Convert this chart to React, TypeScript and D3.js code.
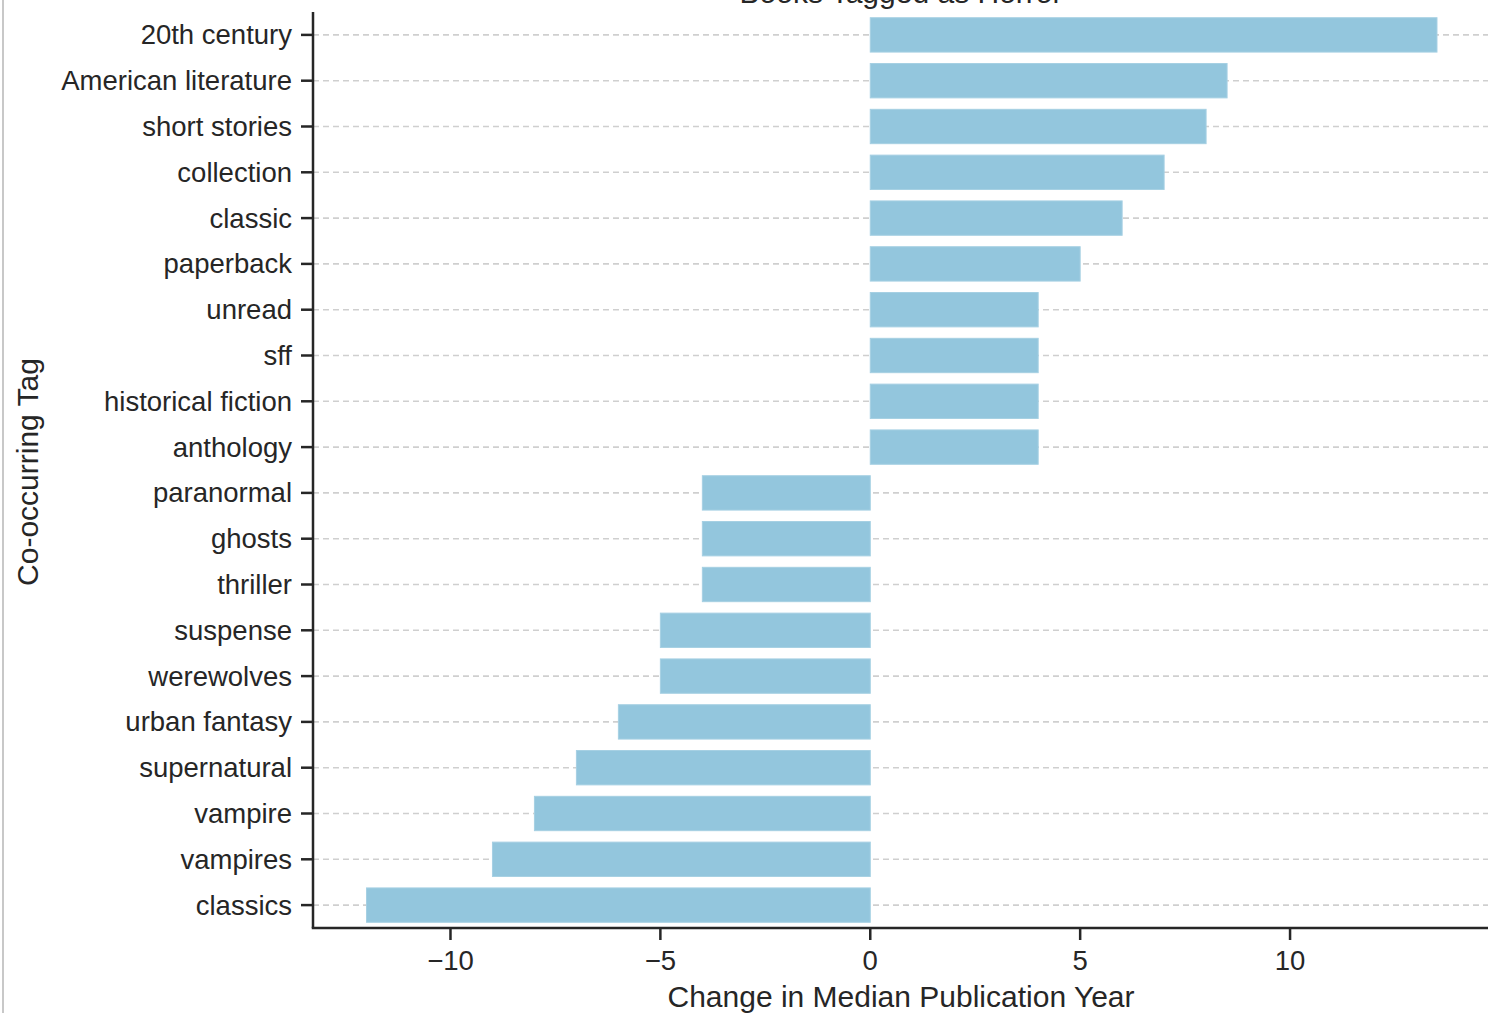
import React from "react";
import * as d3 from "d3";

const tags = [
  "20th century", "American literature", "short stories", "collection", "classic",
  "paperback", "unread", "sff", "historical fiction", "anthology",
  "paranormal", "ghosts", "thriller", "suspense", "werewolves",
  "urban fantasy", "supernatural", "vampire", "vampires", "classics",
];
const changes = [13.5, 8.5, 8, 7, 6, 5, 4, 4, 4, 4, -4, -4, -4, -5, -5, -6, -7, -8, -9, -12];
const xTicks = [-10, -5, 0, 5, 10];
const title = "Books Tagged as Horror";
const xLabel = "Change in Median Publication Year";
const yLabel = "Co-occurring Tag";

const W = 1488, H = 1015;
const FONT = "'Liberation Sans', Arial, sans-serif";

export default function App() {
  const left = 313, bottom = 928, top = 12;
  const x = d3.scaleLinear().domain([-13.275, 14.775]).range([left, 1490.5]);
  const y = d3.scaleBand<string>().domain(tags).range([top, bottom]).paddingInner(0.25).paddingOuter(0.125);
  const dark = "#262626";
  return (
    <svg width={W} height={H} style={{ position: "absolute", left: 0, top: 0, background: "#fff" }}>
      <rect x={0} y={0} width={W} height={H} fill="#fff" />
      <line x1={3} x2={3} y1={0} y2={1013} stroke="#c8c8c8" strokeWidth={2} />
      <text x={901} y={3} textAnchor="middle" fontFamily={FONT} fontSize={30} fill={dark}>{title}</text>
      {tags.map((t) => {
        const cy = (y(t) as number) + y.bandwidth() / 2;
        return (
          <line key={"g" + t} x1={left} x2={W} y1={cy} y2={cy} stroke="#cfcfcf" strokeWidth={1.6} strokeDasharray="6 4" />
        );
      })}
      {tags.map((t, i) => {
        const v = changes[i];
        const x0 = x(Math.min(0, v));
        const x1 = x(Math.max(0, v));
        return (
          <rect key={"b" + t} x={x0} y={y(t)} width={x1 - x0} height={y.bandwidth()} fill="#93c6dd" stroke="#a6d0e3" strokeWidth={1} />
        );
      })}
      <line x1={left} x2={left} y1={top} y2={bottom} stroke={dark} strokeWidth={2.5} />
      <line x1={left - 1.25} x2={W} y1={bottom} y2={bottom} stroke={dark} strokeWidth={2.5} />
      {tags.map((t) => {
        const cy = (y(t) as number) + y.bandwidth() / 2;
        return (
          <g key={"t" + t}>
            <line x1={left - 12} x2={left} y1={cy} y2={cy} stroke={dark} strokeWidth={2.5} />
            <text x={292} y={cy + 9.5} textAnchor="end" fontFamily={FONT} fontSize={27.5} fill={dark}>{t}</text>
          </g>
        );
      })}
      {xTicks.map((v) => (
        <g key={"x" + v}>
          <line x1={x(v)} x2={x(v)} y1={bottom} y2={bottom + 12} stroke={dark} strokeWidth={2.5} />
          <text x={x(v)} y={970} textAnchor="middle" fontFamily={FONT} fontSize={27.5} fill={dark}>
            {v < 0 ? "\u2212" + Math.abs(v) : String(v)}
          </text>
        </g>
      ))}
      <text x={901} y={1006.5} textAnchor="middle" fontFamily={FONT} fontSize={30} fill={dark}>{xLabel}</text>
      <text transform="translate(38,472) rotate(-90)" textAnchor="middle" fontFamily={FONT} fontSize={30} fill={dark}>{yLabel}</text>
    </svg>
  );
}
